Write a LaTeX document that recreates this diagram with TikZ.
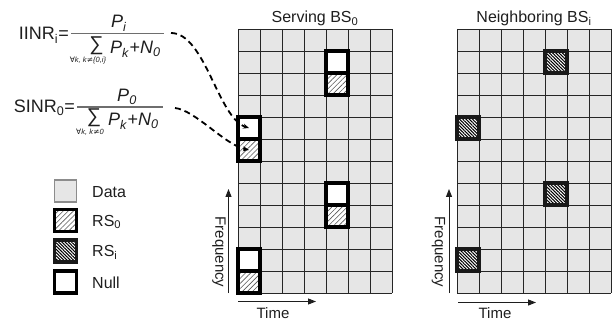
\documentclass[tikz,border=0pt]{standalone}
\usepackage{fontspec}
\setmainfont{Liberation Sans}
\newfontfamily\symfont{DejaVu Sans}
\usetikzlibrary{patterns.meta,arrows.meta}

\definecolor{datagray}{HTML}{E6E6E6}
\definecolor{gridline}{HTML}{262626}
\definecolor{inkgray}{HTML}{1E1E1E}
\definecolor{bargray}{HTML}{6E6E6E}

\newcommand\fntTitle{\fontsize{16}{19}\selectfont}
\newcommand\fntLabel{\fontsize{16}{19}\selectfont}
\newcommand\fntAxis{\fontsize{15}{18}\selectfont}
\newcommand\fntFrac{\fontsize{18}{21}\selectfont}
\newcommand\fntSum{\fontsize{20}{24}\selectfont}
\newcommand\fntTiny{\fontsize{7.5}{9}\selectfont}

\begin{document}
\begin{tikzpicture}[x=1pt,y=-1pt,
  txt/.style={inner sep=0pt, text=inkgray},
  cellbox/.style={minimum size=22pt, inner sep=0pt, outer sep=0pt},
  datacell/.style={cellbox, fill=datagray, draw=black!45, line width=1.1pt},
  nullcell/.style={cellbox, fill=white, draw=black, line width=3.4pt},
  rszerocell/.style={cellbox, preaction={fill=white},
    pattern={Lines[angle=45,distance=3.6pt,line width=0.6pt]},
    pattern color=black!65, draw=black, line width=3.4pt},
  rsicell/.style={cellbox, preaction={fill=white},
    pattern={Lines[angle=-45,distance=2.3pt,line width=1.1pt]},
    pattern color=black, draw=black!90, line width=3.4pt},
  fracbar/.style={draw=bargray, line width=1.2pt},
  pointer/.style={draw=black, line width=1.8pt, dash pattern=on 6pt off 4pt,
    -{Stealth[length=6pt,width=5pt]}},
  axisarrow/.style={draw=inkgray, line width=1pt, -{Triangle[length=8pt,width=6pt]}}
]
\useasboundingbox (0,0) rectangle (615,320);

% ---------- resource grids (7 time slots x 12 subcarriers) ----------
\foreach \gx in {238,457}{
  \fill[datagray] (\gx,29) rectangle ({\gx+154},293);
  \foreach \c in {0,...,7}
    \draw[gridline, line width=0.9pt] ({\gx+22*\c},29) -- ({\gx+22*\c},293);
  \foreach \r in {0,...,12}
    \draw[gridline, line width=0.9pt] (\gx,{29+22*\r}) -- ({\gx+154},{29+22*\r});
}

% serving cell: reference symbols and nulled positions
\node[nullcell]   (sNullA) at (337,62)  {};
\node[rszerocell] (sRsA)   at (337,84)  {};
\node[nullcell]   (sNullB) at (249,128) {};
\node[rszerocell] (sRsB)   at (249,150) {};
\node[nullcell]   (sNullC) at (337,194) {};
\node[rszerocell] (sRsC)   at (337,216) {};
\node[nullcell]   (sNullD) at (249,260) {};
\node[rszerocell] (sRsD)   at (249,282) {};

% neighbouring cell: its reference symbols
\node[rsicell] (nRsA) at (556,62)  {};
\node[rsicell] (nRsB) at (468,128) {};
\node[rsicell] (nRsC) at (556,194) {};
\node[rsicell] (nRsD) at (468,260) {};

% titles
\node[txt, font=\fntTitle, anchor=base] (tServ) at (315,23) {Serving BS\textsubscript{0}};
\node[txt, font=\fntTitle, anchor=base] (tNeigh) at (534,23) {Neighboring BS\textsubscript{i}};

% ---------- axes ----------
\coordinate (sfA) at (228.5,293);  \coordinate (sfB) at (228.5,189);
\coordinate (stA) at (238,301.5);  \coordinate (stB) at (316,301.5);
\coordinate (nfA) at (449,293);    \coordinate (nfB) at (449,189);
\coordinate (ntA) at (458,302.5);  \coordinate (ntB) at (536,302.5);
\draw[axisarrow] (sfA) -- (sfB);
\draw[axisarrow] (stA) -- (stB);
\draw[axisarrow] (nfA) -- (nfB);
\draw[axisarrow] (ntA) -- (ntB);
\node[txt, font=\fntAxis, rotate=-90] (sFreq) at (219,252) {Frequency};
\node[txt, font=\fntAxis, anchor=base] (sTime) at (273,318) {Time};
\node[txt, font=\fntAxis, rotate=-90] (nFreq) at (438.5,252) {Frequency};
\node[txt, font=\fntAxis, anchor=base] (nTime) at (495,318) {Time};

% ---------- legend ----------
\node[datacell]   (lgData) at (65.5,191)   {};
\node[rszerocell] (lgRsZ)  at (65.5,220.5) {};
\node[rsicell]    (lgRsI)  at (65.5,251)   {};
\node[nullcell]   (lgNull) at (65.5,282)   {};
\node[txt, font=\fntLabel, anchor=west] (lgDataT) at (92,192) {Data};
\node[txt, font=\fntLabel, anchor=west] (lgRsZT)  at (92,222) {RS\textsubscript{0}};
\node[txt, font=\fntLabel, anchor=west] (lgRsIT)  at (92,252.5) {RS\textsubscript{i}};
\node[txt, font=\fntLabel, anchor=west] (lgNullT) at (92,283) {Null};

% ---------- IINR formula ----------
\node[txt, font=\fntFrac, anchor=base east] (iLhs) at (69,40) {IINR\textsubscript{i}=};
\coordinate (iBarL) at (71,33.5);
\coordinate (iBarR) at (164,33.5);
\draw[fracbar] (iBarL) -- (iBarR);
\node[txt, font=\fntFrac, anchor=base] (iNum) at (119,28) {\textit{P}\textsubscript{\textit{i}}};
\node[txt, font=\fntSum, anchor=base] (iSum) at (96.5,51) {∑};
\node[txt, font=\fntFrac, anchor=base west] (iDen) at (110,54)
  {\textit{P}\textsubscript{\textit{k}}+\textit{N}\textsubscript{\textit{0}}};
\node[txt, font=\fntTiny, anchor=base] (iSub) at (88,63)
  {{\symfont ∀}\textit{k, k}{\symfont ≠}\textit{\{0,i\}}};

% ---------- SINR formula ----------
\node[txt, font=\fntFrac, anchor=base east] (sLhs) at (75,113) {SINR\textsubscript{0}=};
\coordinate (sBarL) at (77,107);
\coordinate (sBarR) at (163,107);
\draw[fracbar] (sBarL) -- (sBarR);
\node[txt, font=\fntFrac, anchor=base] (sNum) at (127,102) {\textit{P}\textsubscript{\textit{0}}};
\node[txt, font=\fntSum, anchor=base] (sSum) at (94,123) {∑};
\node[txt, font=\fntFrac, anchor=base west] (sDen) at (108,126)
  {\textit{P}\textsubscript{\textit{k}}+\textit{N}\textsubscript{\textit{0}}};
\node[txt, font=\fntTiny, anchor=base] (sSub) at (90,135)
  {{\symfont ∀}\textit{k, k}{\symfont ≠}\textit{0}};

% ---------- dashed pointers to the measured resource elements ----------
\coordinate (iTail) at (171,33);
\coordinate (sTail) at (175,108);
\draw[pointer] (iTail) .. controls (205,33) and (218,118) .. (sNullB.center);
\draw[pointer] (sTail) .. controls (195,110) and (225,145) .. (sRsB.center);
\end{tikzpicture}
\end{document}
